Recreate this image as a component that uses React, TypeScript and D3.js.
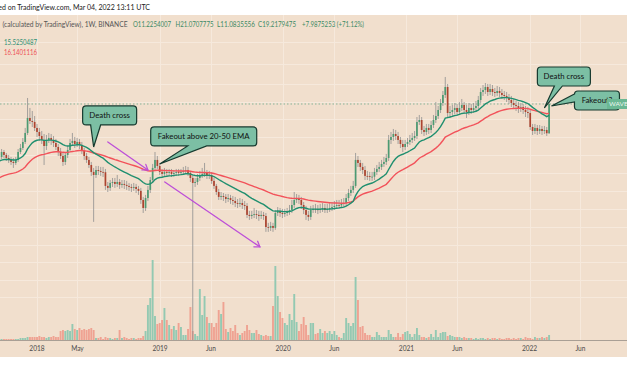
import React from 'react';
import * as d3 from 'd3';

// ---------- DATA (weekly candles, first week 2017-09-11) ----------
const firstWeekUTC = [2017, 8, 11];
const firstOpen = 6.87;
const closes = [
  7.26, 7.95, 7.53, 7.12, 6.87, 6.62, 6.50, 6.87, 7.95, 8.56, 9.56, 11.28, 14.86, 14.06, 13.81, 12.37,
  11.49, 10.67, 9.92, 8.88, 9.92, 10.29, 9.92, 9.38, 8.72, 7.95,
  7.39, 6.62, 7.53, 8.25, 9.38, 9.74, 9.21, 9.56, 9.05, 8.10,
  7.39, 6.87, 6.26, 5.51, 5.21, 5.71, 5.61, 5.51, 5.48, 4.26,
  4.11, 4.50, 4.58, 4.42, 4.58, 4.34, 4.42, 4.34, 4.26, 4.18,
  4.11, 4.18, 4.03, 3.89, 3.29, 2.84, 3.41, 3.96, 4.75, 5.93,
  6.87, 6.15, 5.51, 5.31, 5.51, 5.41, 5.51, 5.31, 5.41, 5.51,
  5.41, 5.51, 5.61, 5.71, 5.41, 4.93, 4.50, 4.58, 4.93, 5.21,
  5.31, 5.41, 5.12, 5.21, 4.67, 4.26, 3.81, 3.48, 3.54, 3.48,
  3.35, 3.41, 3.29, 3.23, 3.11, 3.06, 3.11, 3.00, 2.95, 2.50,
  2.45, 2.50, 2.54, 2.50, 2.45, 2.50, 2.45, 2.00, 1.97, 2.04,
  1.97, 2.59, 2.69, 2.59, 2.54, 2.59, 2.64, 2.74, 3.00, 3.29,
  3.41, 3.29, 3.00, 2.74, 2.50, 2.41, 2.74, 2.79, 2.77, 2.74,
  2.79, 2.84, 2.74, 2.79, 2.84, 2.89, 2.95, 3.00, 2.98, 3.06,
  3.11, 3.41, 3.74, 3.96, 4.26, 6.87, 6.50, 6.04, 5.71, 5.12,
  5.10, 5.02, 5.05, 5.51, 5.82, 6.04, 6.38, 6.62, 7.12, 9.92,
  10.48, 11.07, 10.67, 9.92, 9.21, 8.72, 9.21, 9.56, 9.92, 10.29,
  10.67, 13.81, 14.32, 11.92, 11.49, 12.37, 11.92, 13.06, 14.32, 15.41,
  17.21, 19.58, 22.68, 26.27, 16.29, 16.59, 17.21, 17.86, 16.59, 17.86,
  18.87, 17.21, 16.59, 17.86, 17.21, 17.86, 18.53, 20.69, 23.96, 24.86,
  26.27, 23.96, 25.32, 23.96, 23.53, 24.41, 23.53, 22.68, 22.27, 21.46,
  20.69, 19.58, 18.87, 18.53, 17.86, 18.19, 17.21, 16.59, 16.29, 12.59,
  11.70, 12.37, 11.70, 12.14, 11.70, 11.92, 11.2254007, 19.2179475,
];
const highs = [
  7.67, 8.40, 8.25, 7.81, 7.53, 7.26, 7.12, 7.26, 8.40, 9.21, 10.29, 12.37, 21.46, 17.86, 16.90, 15.41,
  13.31, 12.37, 11.70, 11.07, 10.87, 11.28, 11.07, 10.67, 10.10, 9.21,
  8.56, 7.95, 7.95, 8.88, 10.10, 11.28, 10.48, 10.29, 10.10, 9.56,
  8.56, 7.81, 7.26, 6.62, 5.93, 6.15, 6.15, 6.04, 6.04, 5.82,
  4.58, 4.75, 4.93, 4.93, 5.21, 4.84, 4.75, 4.75, 4.67, 4.50,
  4.42, 4.50, 4.42, 4.26, 4.11, 3.48, 3.61, 4.26, 5.02, 6.38,
  7.95, 7.39, 6.50, 5.82, 5.93, 5.82, 5.82, 5.82, 5.71, 5.82,
  5.82, 5.82, 6.04, 6.15, 6.04, 5.61, 5.21, 4.93, 5.31, 5.61,
  5.93, 6.50, 5.71, 5.61, 5.51, 4.93, 4.42, 4.03, 3.81, 3.74,
  3.67, 3.67, 3.61, 3.54, 3.48, 3.35, 3.41, 3.35, 3.23, 3.11,
  2.69, 2.69, 2.84, 2.74, 2.69, 2.69, 2.64, 2.59, 2.16, 2.20,
  2.16, 2.74, 2.89, 2.84, 2.79, 2.79, 2.84, 3.00, 3.29, 3.81,
  3.67, 3.61, 3.48, 3.17, 2.95, 2.69, 2.95, 3.00, 3.06, 3.00,
  3.06, 3.11, 3.06, 3.06, 3.11, 3.17, 3.23, 3.29, 3.29, 3.35,
  3.41, 3.67, 4.03, 4.26, 4.67, 7.81, 7.39, 6.87, 6.50, 6.15,
  5.61, 5.51, 5.51, 5.93, 6.26, 6.62, 6.87, 7.26, 7.67, 10.87,
  11.49, 12.14, 11.92, 11.49, 10.48, 9.92, 9.92, 10.29, 10.87, 11.28,
  11.70, 15.13, 15.70, 15.13, 12.83, 13.31, 13.31, 14.06, 15.70, 19.94,
  18.53, 21.07, 24.41, 31.57, 27.76, 18.53, 18.87, 19.58, 19.22, 19.94,
  21.07, 19.94, 18.87, 19.58, 19.22, 19.58, 20.31, 22.27, 25.79, 27.25,
  28.27, 27.76, 27.76, 27.25, 25.79, 26.76, 26.27, 25.32, 24.41, 23.96,
  23.10, 22.27, 21.07, 20.31, 19.94, 19.58, 19.22, 18.53, 18.19, 17.21,
  13.31, 13.31, 13.06, 13.06, 12.83, 12.83, 12.59, 21.0707775,
];
const lows = [
  6.62, 6.99, 7.12, 6.74, 6.50, 6.26, 5.93, 6.26, 6.62, 7.67, 8.25, 9.21, 10.87, 13.31, 12.59, 11.70,
  10.48, 9.74, 9.21, 6.26, 8.25, 9.38, 9.05, 8.72, 8.25, 7.39,
  6.99, 6.15, 6.26, 7.12, 7.95, 8.88, 8.56, 8.72, 8.40, 7.67,
  6.87, 6.50, 5.93, 5.12, 2.20, 4.93, 5.21, 5.12, 5.02, 3.96,
  3.81, 3.89, 4.18, 4.11, 4.18, 4.03, 4.11, 4.03, 3.96, 3.89,
  3.81, 3.89, 3.74, 3.61, 3.06, 2.59, 2.69, 3.23, 3.74, 4.50,
  5.61, 5.82, 5.21, 5.02, 5.02, 5.12, 5.12, 5.02, 5.02, 5.12,
  5.12, 5.21, 5.21, 5.31, 5.12, 4.58, 0.2, 4.18, 4.34, 4.67,
  4.93, 5.02, 4.84, 4.84, 4.42, 4.03, 3.61, 3.29, 3.29, 3.23,
  3.11, 3.17, 3.06, 3.00, 2.89, 2.84, 2.89, 2.79, 2.74, 2.36,
  2.28, 2.32, 2.36, 2.32, 2.24, 2.32, 2.28, 1.83, 1.83, 1.86,
  1.83, 1.90, 2.45, 2.41, 2.36, 2.41, 2.45, 2.50, 2.59, 2.84,
  3.11, 3.06, 2.79, 2.54, 2.28, 2.24, 2.28, 2.59, 2.59, 2.54,
  2.59, 2.64, 2.59, 2.59, 2.64, 2.69, 2.74, 2.79, 2.79, 2.84,
  2.89, 2.95, 3.23, 3.54, 3.74, 4.11, 6.04, 5.61, 5.31, 4.75,
  4.75, 4.67, 4.67, 4.75, 5.21, 5.51, 5.71, 6.04, 6.26, 6.74,
  9.21, 9.74, 9.92, 9.21, 8.56, 7.95, 8.25, 8.72, 9.05, 9.38,
  9.74, 10.10, 13.06, 11.07, 10.67, 10.87, 11.07, 11.28, 12.37, 13.55,
  14.59, 16.29, 18.53, 21.46, 15.13, 14.86, 15.41, 15.99, 15.41, 15.70,
  16.90, 15.99, 14.86, 15.70, 15.99, 16.29, 16.59, 17.53, 19.58, 22.27,
  23.10, 22.27, 22.68, 22.27, 21.86, 22.27, 21.86, 21.07, 20.69, 19.94,
  19.22, 18.19, 17.53, 16.90, 16.29, 16.59, 15.99, 15.13, 14.86, 11.92,
  10.87, 11.07, 10.87, 11.07, 10.87, 11.07, 10.67, 11.0835556,
];
const volumes = [
  1, 1, 1, 1, 1, 1, 1, 1, 1, 2, 2, 2, 3, 3, 3, 3,
  3, 4, 3, 3, 2, 3, 3, 4, 3, 3,
  9, 10, 9, 10, 9, 16, 11, 10, 12, 10,
  11, 10, 11, 12, 10, 2, 2, 3, 1, 3,
  2, 2, 1, 2, 2, 10, 2, 3, 2, 1,
  2, 2, 1, 2, 2, 4, 9, 35, 42, 80,
  24, 16, 17, 20, 32, 20, 15, 11, 14, 10,
  17, 13, 5, 5, 11, 33, 9, 6, 4, 51,
  25, 44, 23, 17, 17, 13, 17, 30, 26, 38,
  11, 8, 12, 9, 15, 7, 5, 7, 9, 15,
  10, 7, 7, 10, 6, 5, 4, 5, 4, 4,
  34, 74, 44, 28, 22, 17, 15, 26, 20, 46,
  18, 9, 16, 23, 15, 5, 17, 17, 6, 7,
  11, 7, 9, 7, 9, 6, 9, 5, 3, 2,
  7, 22, 17, 14, 17, 63, 40, 13, 14, 7,
  5, 5, 3, 3, 8, 5, 3, 3, 3, 10,
  6, 3, 3, 7, 3, 6, 8, 9, 6, 3,
  6, 12, 5, 3, 3, 2, 3, 6, 3, 10,
  3, 7, 8, 8, 4, 5, 4, 3, 3, 3,
  2, 3, 2, 2, 2, 1, 2, 1, 2, 2,
  1, 2, 1, 2, 2, 1, 2, 1, 1, 2,
  2, 1, 2, 1, 2, 2, 1, 3, 2, 2,
  1, 3, 2, 2, 3, 2, 3, 5,
];
const ema20Seed = 6.74;
const ema50Seed = 4.93;

const timeTicks = [
  { date: '2018-01-01', label: '2018' },
  { date: '2018-05-01', label: 'May' },
  { date: '2019-01-01', label: '2019' },
  { date: '2019-06-01', label: 'Jun' },
  { date: '2020-01-01', label: '2020' },
  { date: '2020-06-01', label: 'Jun' },
  { date: '2021-01-01', label: '2021' },
  { date: '2021-06-01', label: 'Jun' },
  { date: '2022-01-01', label: '2022' },
  { date: '2022-06-01', label: 'Jun' },
];
const gridPrices = [60, 40, 28, 20, 14.5, 10.5, 7.5, 5.4, 3.9, 2.8, 2.0, 1.45, 1.05, 0.76, 0.55];

const headerTitle = 'Published on TradingView.com, Mar 04, 2022 13:11 UTC';
const headerSymbol = '(calculated by TradingView), 1W, BINANCE';
const ohlcTexts = ['O11.2254007', 'H21.0707775', 'L11.0835556', 'C19.2179475', '+7.9875253 (+71.12%)'];
const ema20Label = '15.5250487';
const ema50Label = '16.1401116';
const priceTag = 'WAVESETH';

// annotations anchored to (date, price)
const callouts = [
  { text: 'Death cross', date: '2018-06-18', price: 8.72, box: [-11, -41, 54, 19], tail: 'bottom', base: [8, 18] },
  { text: 'Fakeout above 20-50 EMA', date: '2018-12-31', price: 6.38, box: [-9, -37, 106, 19], tail: 'bottom', base: [37, 56] },
  { text: 'Death cross', date: '2022-02-14', price: 17.86, box: [-7, -41, 53, 19], tail: 'bottom', base: [17, 25] },
  { text: 'Fakeout?', date: '2022-03-07', price: 18.53, box: [23, -15, 45, 19], tail: 'left', base: [3, 11] },
];
const arrows = [
  { from: ['2018-07-30', 9.56], to: ['2018-11-26', 5.71] },
  { from: ['2019-01-15', 4.58], to: ['2019-10-24', 1.39] },
];

// ---------- helpers ----------
const W = 627, H = 376;
const PANE_TOP = 15, PANE_BOTTOM = 340;

function ema(values: number[], n: number, seed: number) {
  const a = 2 / (n + 1);
  let e = seed;
  return values.map((v, i) => {
    if (i > 0) e = e + a * (v - e);
    return e;
  });
}

function calloutPath(x0: number, y0: number, w: number, h: number, r: number, side: string, b1: number, b2: number, tx: number, ty: number) {
  const x1 = x0 + w, y1 = y0 + h;
  if (side === 'bottom') {
    return `M${x0 + r},${y0} H${x1 - r} Q${x1},${y0} ${x1},${y0 + r} V${y1 - r} Q${x1},${y1} ${x1 - r},${y1} H${x0 + b2} L${tx},${ty} L${x0 + b1},${y1} H${x0 + r} Q${x0},${y1} ${x0},${y1 - r} V${y0 + r} Q${x0},${y0} ${x0 + r},${y0} Z`;
  }
  return `M${x0 + r},${y0} H${x1 - r} Q${x1},${y0} ${x1},${y0 + r} V${y1 - r} Q${x1},${y1} ${x1 - r},${y1} H${x0 + r} Q${x0},${y1} ${x0},${y1 - r} V${y0 + b2} L${tx},${ty} L${x0},${y0 + b1} V${y0 + r} Q${x0},${y0} ${x0 + r},${y0} Z`;
}

export default function App() {
  const t0 = Date.UTC(firstWeekUTC[0], firstWeekUTC[1], firstWeekUTC[2]);
  const weekMs = 7 * 24 * 3600 * 1000;
  const candles = closes.map((c, i) => ({
    date: new Date(t0 + i * weekMs),
    open: i === 0 ? firstOpen : closes[i - 1],
    close: c,
    high: highs[i],
    low: lows[i],
    volume: volumes[i],
  }));

  const x = d3.scaleUtc().domain([new Date('2018-01-01T00:00:00Z'), new Date('2022-02-28T00:00:00Z')]).range([37, 549.1]);
  const y = d3.scaleLog().domain([1.76, 33.36]).range([234, 74]);
  const v = d3.scaleLinear().domain([0, 80]).range([PANE_BOTTOM, 260]);

  const e20 = ema(closes, 20, ema20Seed);
  const e50 = ema(closes, 50, ema50Seed);
  const line = d3.line<number>().x((_, i) => x(candles[i].date)).y((d) => y(d));

  const green = '#4c9a72', red = '#ad432f';
  const volGreen = '#93c9b2', volRed = '#efa292';
  const font = "Lato, 'Open Sans', sans-serif";
  const lastY = y(closes[closes.length - 1]);

  return (
    <svg width={W} height={H} style={{ position: 'absolute', left: 0, top: 0, background: '#fff' }} fontFamily={font}>
      <defs>
        <clipPath id="pane"><rect x={0} y={PANE_TOP} width={W} height={PANE_BOTTOM - PANE_TOP} /></clipPath>
      </defs>
      <rect x={0} y={0} width={W} height={H} fill="#fff" />
      <rect x={0} y={PANE_TOP} width={W} height={357 - PANE_TOP} fill="#f1dfcd" />

      {/* grid */}
      <g stroke="#f6e9dc" strokeWidth={1}>
        {timeTicks.map((t, i) => {
          const xx = Math.round(x(new Date(t.date + 'T00:00:00Z'))) + 0.5;
          return <line key={i} x1={xx} x2={xx} y1={PANE_TOP} y2={PANE_BOTTOM} />;
        })}
        {gridPrices.map((p, i) => {
          const yy = Math.round(y(p)) + 0.5;
          return yy > PANE_TOP && yy < PANE_BOTTOM ? <line key={'h' + i} x1={0} x2={W} y1={yy} y2={yy} /> : null;
        })}
      </g>

      {/* header */}
      <text x={150} y={10} textAnchor="end" fontSize={7} fill="#222">{headerTitle}</text>
      <text x={2.5} y={26.5} fontSize={6.6} fill="#555" textLength={125} lengthAdjust="spacingAndGlyphs">{headerSymbol}</text>
      {ohlcTexts.map((t, i) => (
        <text key={i} x={[133, 175.5, 217, 258, 302][i]} y={26.5} fontSize={6.6} fill="#3b8a64"
          textLength={i < 4 ? 38 : 62} lengthAdjust="spacingAndGlyphs">{t}</text>
      ))}
      <text x={4} y={44.5} fontSize={6.6} fill="#2e9073" textLength={33} lengthAdjust="spacingAndGlyphs">{ema20Label}</text>
      <text x={4} y={54.5} fontSize={6.6} fill="#ee4f55" textLength={33} lengthAdjust="spacingAndGlyphs">{ema50Label}</text>

      <g clipPath="url(#pane)">
        {/* volume */}
        {candles.map((c, i) => (
          <rect key={'v' + i} x={x(c.date) - 0.95} width={1.9} y={v(c.volume)} height={PANE_BOTTOM - v(c.volume)}
            fill={c.close >= c.open ? volGreen : volRed} />
        ))}
        {/* last price line */}
        <line x1={0} x2={W} y1={lastY} y2={lastY} stroke="#6aa88c" strokeWidth={0.8} strokeDasharray="1.5,2" />
        {/* candles */}
        {candles.map((c, i) => {
          const cx = x(c.date);
          const up = c.close >= c.open;
          const top = y(Math.max(c.open, c.close));
          const bot = y(Math.min(c.open, c.close));
          return (
            <g key={'c' + i}>
              <line x1={cx} x2={cx} y1={y(c.high)} y2={y(c.low)} stroke="#8f8f8f" strokeWidth={0.8} />
              <rect x={cx - 0.85} width={1.7} y={top} height={Math.max(0.8, bot - top)} fill={up ? green : red} />
            </g>
          );
        })}
        {/* EMAs */}
        <path d={line(e50) || ''} fill="none" stroke="#f2525a" strokeWidth={1.4} />
        <path d={line(e20) || ''} fill="none" stroke="#1f8f6f" strokeWidth={1.4} />
      </g>

      {/* arrows */}
      {arrows.map((a, i) => {
        const x1 = x(new Date(a.from[0] + 'T00:00:00Z')), y1 = y(a.from[1] as number);
        const x2 = x(new Date(a.to[0] + 'T00:00:00Z')), y2 = y(a.to[1] as number);
        const ang = Math.atan2(y2 - y1, x2 - x1);
        const L = 6, s = 0.6;
        const h1 = [x2 - L * Math.cos(ang - s), y2 - L * Math.sin(ang - s)];
        const h2 = [x2 - L * Math.cos(ang + s), y2 - L * Math.sin(ang + s)];
        return (
          <g key={'a' + i} stroke="#bd4fd8" strokeWidth={1.3} fill="none" strokeLinecap="round">
            <line x1={x1} y1={y1} x2={x2} y2={y2} />
            <polyline points={`${h1[0]},${h1[1]} ${x2},${y2} ${h2[0]},${h2[1]}`} />
          </g>
        );
      })}

      {/* callouts */}
      {callouts.map((c, i) => {
        const tx = x(new Date(c.date + 'T00:00:00Z')), ty = y(c.price);
        const [dx, dy, w, h] = c.box;
        const bx = tx + dx, by = ty + dy;
        return (
          <g key={'co' + i}>
            <path d={calloutPath(bx, by, w, h, 3.5, c.tail, c.base[0], c.base[1], tx, ty)} fill="#7cbfa4" stroke="#173a2f" strokeWidth={1.2} />
            <text x={bx + w / 2} y={by + h / 2 + 2.8} textAnchor="middle" fontSize={7.8} fill="#111">{c.text}</text>
          </g>
        );
      })}

      {/* price tag */}
      <rect x={607} y={lastY - 5} width={22} height={10} fill="#6bb894" />
      <text x={609} y={lastY + 2.3} fontSize={6.5} fill="#eaf6ef">{priceTag}</text>

      {/* time axis */}
      <line x1={0} x2={W} y1={PANE_BOTTOM + 0.5} y2={PANE_BOTTOM + 0.5} stroke="#a99f95" strokeWidth={1} />
      {timeTicks.map((t, i) => (
        <text key={'t' + i} x={x(new Date(t.date + 'T00:00:00Z'))} y={351} textAnchor="middle" fontSize={6.6} fill="#4a4a4a">{t.label}</text>
      ))}
    </svg>
  );
}
